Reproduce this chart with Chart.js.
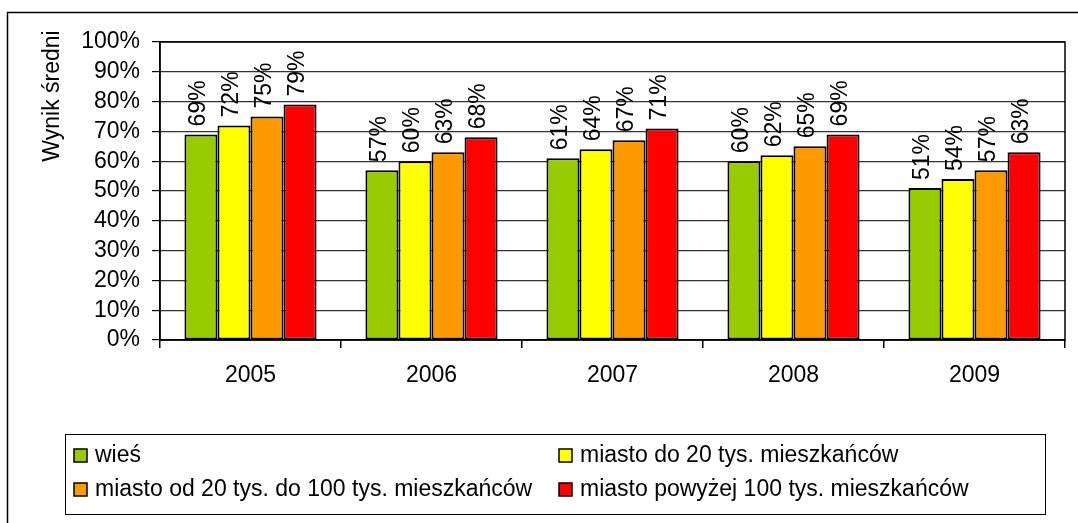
<!DOCTYPE html>
<html>
<head>
<meta charset="utf-8">
<script src="https://cdn.jsdelivr.net/npm/chart.js@4/dist/chart.umd.min.js"></script>
<style>
  html, body { margin: 0; padding: 0; background: #fff; }
  #wrap { width: 1078px; height: 523px; position: relative; }
</style>
</head>
<body>
<div id="wrap"><canvas id="chart"></canvas></div>
<script>
// values (percent)
const years = ['2005', '2006', '2007', '2008', '2009'];
const wies = [69, 57, 61, 60, 51];
const miastoDo20 = [72, 60, 64, 62, 54];
const miasto20do100 = [75, 63, 67, 65, 57];
const miastoPow100 = [79, 68, 71, 69, 63];
const yTicks = [0, 10, 20, 30, 40, 50, 60, 70, 80, 90, 100];

const FONT = 'Liberation Sans, Arial, sans-serif';
const SIZE = 23;

// frame, plot border and y title
const framePlugin = {
    id: 'frame',
    beforeDraw(chart) {
        const ctx = chart.ctx;
        ctx.save();
        ctx.fillStyle = '#fff';
        ctx.fillRect(0, 0, chart.width, chart.height);
        ctx.strokeStyle = '#000';
        ctx.lineWidth = 1.5;
        ctx.strokeRect(7.5, 12.5, chart.width + 20, chart.height + 20);
        ctx.restore();
    },
    afterDraw(chart) {
        const ctx = chart.ctx;
        const a = chart.chartArea;
        ctx.save();
        ctx.strokeStyle = '#000';
        ctx.lineWidth = 1.5;
        ctx.strokeRect(a.left, a.top, a.right - a.left, a.bottom - a.top);

        ctx.fillStyle = '#000';
        ctx.font = SIZE + 'px ' + FONT;
        ctx.translate(53, 96);
        ctx.rotate(-Math.PI / 2);
        ctx.textAlign = 'center';
        ctx.textBaseline = 'middle';
        ctx.fillText('Wynik średni', 0, 0);
        ctx.restore();
    }
};

// rotated value labels above bars
const valueLabels = {
    id: 'valueLabels',
    afterDatasetsDraw(chart) {
        const ctx = chart.ctx;
        ctx.save();
        ctx.fillStyle = '#000';
        ctx.font = SIZE + 'px ' + FONT;
        ctx.textAlign = 'left';
        ctx.textBaseline = 'middle';
        chart.data.datasets.forEach((ds, i) => {
            chart.getDatasetMeta(i).data.forEach((bar, j) => {
                ctx.save();
                ctx.translate(bar.x - 2, bar.y - 8);
                ctx.rotate(-Math.PI / 2);
                ctx.fillText(ds.data[j] + '%', 0, 0);
                ctx.restore();
            });
        });
        ctx.restore();
    }
};

// two-column boxed legend at the bottom
const boxLegend = {
    id: 'boxLegend',
    afterDraw(chart) {
        const ctx = chart.ctx;
        ctx.save();
        ctx.strokeStyle = '#000';
        ctx.lineWidth = 1;
        ctx.strokeRect(65.5, 434.5, 980, 80);
        ctx.font = SIZE + 'px ' + FONT;
        ctx.textBaseline = 'middle';
        ctx.textAlign = 'left';
        const cols = [74, 559];
        const rows = [455, 489];
        chart.data.datasets.forEach((ds, i) => {
            const x = cols[i % 2];
            const y = rows[Math.floor(i / 2)];
            ctx.fillStyle = ds.backgroundColor;
            ctx.fillRect(x, y - 6, 13, 13);
            ctx.strokeStyle = '#000';
            ctx.lineWidth = 1.5;
            ctx.strokeRect(x, y - 6, 13, 13);
            ctx.fillStyle = '#000';
            ctx.fillText(ds.label, x + 21, y + 1);
        });
        ctx.restore();
    }
};

const ctx = document.getElementById('chart').getContext('2d');
new Chart(ctx, {
    type: 'bar',
    data: {
        labels: years,
        datasets: [
            { label: 'wieś', data: wies, backgroundColor: '#99CC00' },
            { label: 'miasto do 20 tys. mieszkańców', data: miastoDo20, backgroundColor: '#FFFF00' },
            { label: 'miasto od 20 tys. do 100 tys. mieszkańców', data: miasto20do100, backgroundColor: '#FF9900' },
            { label: 'miasto powyżej 100 tys. mieszkańców', data: miastoPow100, backgroundColor: '#FF0000' }
        ].map(d => Object.assign(d, {
            borderColor: '#000',
            borderWidth: 2,
            borderSkipped: false,
            categoryPercentage: 0.73,
            barPercentage: 1
        }))
    },
    options: {
        responsive: true,
        maintainAspectRatio: false,
        animation: false,
        layout: { padding: { top: 42, right: 13, bottom: 133, left: 0 } },
        plugins: {
            legend: { display: false },
            tooltip: { enabled: false }
        },
        scales: {
            x: {
                afterFit(scale) { scale.height = 50; },
                grid: {
                    offset: true,
                    drawOnChartArea: false,
                    drawTicks: true,
                    tickLength: 8,
                    color: '#000',
                    lineWidth: 1.5
                },
                border: { color: '#000', width: 1.5 },
                ticks: { color: '#000', font: { family: FONT, size: SIZE }, padding: 14 }
            },
            y: {
                min: 0,
                max: 100,
                afterFit(scale) { scale.width = 160; },
                afterBuildTicks(scale) { scale.ticks = yTicks.map(v => ({ value: v })); },
                grid: {
                    color: '#333',
                    lineWidth: 1.2,
                    tickLength: 8,
                    tickColor: '#000'
                },
                border: { color: '#000', width: 1.5 },
                ticks: {
                    color: '#000',
                    font: { family: FONT, size: SIZE },
                    padding: 12,
                    autoSkip: false,
                    callback: v => v + '%'
                }
            }
        }
    },
    plugins: [framePlugin, valueLabels, boxLegend]
});
</script>
</body>
</html>
